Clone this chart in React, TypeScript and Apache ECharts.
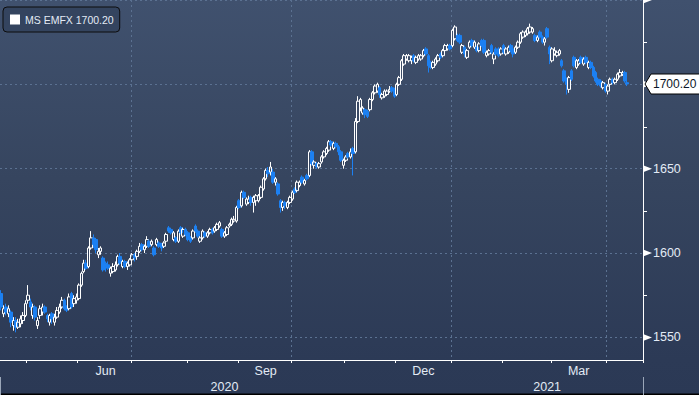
import React, { useEffect, useRef } from "react";
import * as echarts from "echarts";

// ---- data ----
const SERIES_NAME = "MS EMFX";
const START_DATE = "2020-04-16"; // first trading day shown
const CATEGORY_COUNT = 265; // trading-day slots on the axis (data + empty room at right)
const MONTH_NAMES = ["Jan", "Feb", "Mar", "Apr", "May", "Jun", "Jul", "Aug", "Sep", "Oct", "Nov", "Dec"];
const LABEL_MONTHS = [5, 8, 11, 2]; // Jun, Sep, Dec, Mar
const GRID_MONTHS = [0, 3, 6, 9]; // vertical gridlines at quarter starts
const Y_LABELS = [1550, 1600, 1650, 1700];
const Y_MAJOR = [1550, 1600, 1650, 1700, 1750];
const Y_MINOR = [1575, 1625, 1675, 1725];
const Y_MIN = 1536.6;
const Y_MAX = 1750;

// daily candles: [open, close, low, high]
const ohlc: number[][] = [
  [1576, 1568, 1566, 1578], [1564, 1567, 1562, 1569], [1568, 1565, 1563, 1570], [1564, 1567, 1562, 1569], [1565, 1559, 1556, 1566],
  [1557, 1560, 1554, 1562], [1560, 1556, 1553, 1562], [1556, 1559, 1555, 1561], [1558, 1561, 1556, 1563], [1560, 1563, 1558, 1565],
  [1563, 1570, 1562, 1572], [1572, 1575, 1570, 1581], [1571, 1568, 1566, 1573], [1563, 1568, 1561, 1570], [1568, 1562, 1560, 1569],
  [1557, 1560, 1555, 1562], [1563, 1567, 1561, 1569], [1565, 1568, 1563, 1570], [1568, 1565, 1564, 1569], [1563, 1561, 1559, 1564],
  [1559, 1563, 1557, 1564], [1564, 1561, 1558, 1565], [1559, 1562, 1557, 1564], [1562, 1566, 1561, 1568], [1565, 1568, 1564, 1570],
  [1568, 1572, 1567, 1574], [1572, 1567, 1566, 1573], [1568, 1566, 1565, 1569], [1567, 1574, 1566, 1576], [1576, 1568, 1567, 1577],
  [1570, 1573, 1568, 1575], [1572, 1574, 1570, 1576], [1573, 1581, 1572, 1582], [1581, 1588, 1580, 1589], [1589, 1594, 1588, 1596],
  [1594, 1591, 1590, 1596], [1592, 1603, 1591, 1604], [1603, 1609, 1602, 1613], [1609, 1605, 1603, 1611], [1608, 1602, 1600, 1609],
  [1599, 1601, 1597, 1603], [1601, 1603, 1599, 1604], [1597, 1590, 1589, 1598], [1594, 1592, 1589, 1595], [1593, 1591, 1590, 1595],
  [1588, 1591, 1586, 1592], [1589, 1592, 1588, 1594], [1590, 1593, 1589, 1595], [1593, 1598, 1592, 1599], [1598, 1594, 1593, 1600],
  [1592, 1595, 1591, 1596], [1595, 1592, 1591, 1596], [1592, 1594, 1590, 1595], [1593, 1596, 1592, 1597], [1596, 1599, 1594, 1600],
  [1599, 1597, 1595, 1600], [1598, 1601, 1596, 1602], [1601, 1604, 1600, 1606], [1605, 1602, 1601, 1606], [1602, 1604, 1600, 1605],
  [1604, 1608, 1603, 1610], [1607, 1604, 1603, 1608], [1605, 1607, 1604, 1608], [1603, 1599, 1598, 1604], [1605, 1608, 1604, 1609],
  [1606, 1604, 1603, 1607], [1605, 1603, 1601, 1606], [1604, 1606, 1603, 1607], [1607, 1611, 1606, 1612], [1615, 1613, 1612, 1616],
  [1614, 1612, 1611, 1615], [1608, 1612, 1607, 1613], [1609, 1607, 1606, 1610], [1607, 1613, 1606, 1614], [1615, 1612, 1611, 1616],
  [1610, 1614, 1609, 1615], [1614, 1611, 1610, 1615], [1612, 1608, 1607, 1613], [1609, 1607, 1606, 1610], [1609, 1613, 1608, 1614],
  [1616, 1613, 1612, 1617], [1613, 1610, 1609, 1614], [1607, 1609, 1606, 1610], [1609, 1613, 1608, 1614], [1612, 1610, 1609, 1613],
  [1610, 1612, 1609, 1613], [1612, 1614, 1611, 1615], [1614, 1612, 1611, 1615], [1613, 1615, 1612, 1616], [1614, 1617, 1613, 1618],
  [1616, 1618, 1615, 1619], [1614, 1610, 1609, 1615], [1610, 1612, 1609, 1613], [1611, 1615, 1610, 1616], [1616, 1617, 1615, 1618],
  [1617, 1620, 1616, 1621], [1619, 1620, 1618, 1622], [1619, 1627, 1618, 1628], [1631, 1627, 1626, 1632], [1628, 1636, 1627, 1637],
  [1636, 1633, 1632, 1637], [1629, 1632, 1628, 1633], [1630, 1632, 1629, 1634], [1633, 1630, 1628, 1634], [1630, 1633, 1624, 1634],
  [1631, 1634, 1628, 1635], [1631, 1634, 1630, 1635], [1633, 1639, 1632, 1640], [1638, 1644, 1637, 1645], [1644, 1649, 1643, 1650],
  [1649, 1647, 1645, 1651], [1648, 1651, 1646, 1654], [1648, 1642, 1641, 1650], [1642, 1644, 1640, 1645], [1641, 1635, 1634, 1642],
  [1631, 1627, 1624, 1632], [1627, 1630, 1625, 1631], [1630, 1628, 1626, 1631], [1627, 1630, 1626, 1631], [1630, 1633, 1629, 1634],
  [1632, 1636, 1631, 1637], [1638, 1636, 1635, 1639], [1637, 1642, 1636, 1643], [1640, 1642, 1639, 1643], [1645, 1642, 1641, 1646],
  [1641, 1643, 1640, 1644], [1646, 1644, 1643, 1647], [1646, 1660, 1645, 1661], [1660, 1653, 1652, 1661], [1652, 1654, 1650, 1655],
  [1653, 1651, 1650, 1654], [1651, 1653, 1650, 1654], [1654, 1657, 1653, 1658], [1657, 1660, 1656, 1661], [1659, 1662, 1658, 1663],
  [1661, 1666, 1660, 1667], [1666, 1664, 1663, 1667], [1662, 1665, 1661, 1666], [1665, 1663, 1662, 1666], [1663, 1660, 1658, 1664],
  [1660, 1655, 1654, 1661], [1652, 1655, 1650, 1656], [1655, 1657, 1654, 1658], [1659, 1657, 1656, 1660], [1657, 1660, 1656, 1662],
  [1662, 1659, 1646, 1663], [1660, 1678, 1659, 1680], [1678, 1690, 1677, 1693], [1686, 1691, 1684, 1692], [1683, 1686, 1682, 1687],
  [1685, 1682, 1680, 1686], [1684, 1681, 1680, 1685], [1685, 1691, 1684, 1692], [1691, 1695, 1690, 1696], [1695, 1699, 1694, 1700],
  [1696, 1700, 1695, 1701], [1698, 1694, 1692, 1699], [1692, 1694, 1691, 1695], [1693, 1696, 1692, 1697], [1694, 1696, 1693, 1697],
  [1696, 1697, 1695, 1699], [1698, 1696, 1695, 1699], [1697, 1693, 1692, 1698], [1694, 1700, 1693, 1701], [1700, 1704, 1699, 1705],
  [1703, 1714, 1702, 1715], [1712, 1717, 1711, 1718], [1715, 1717, 1714, 1718], [1714, 1717, 1713, 1718], [1714, 1716, 1712, 1717],
  [1717, 1714, 1713, 1718], [1713, 1716, 1712, 1717], [1715, 1717, 1714, 1718], [1715, 1717, 1714, 1718], [1717, 1720, 1716, 1721],
  [1721, 1718, 1717, 1722], [1717, 1711, 1707, 1718], [1713, 1710, 1709, 1714], [1710, 1713, 1709, 1714], [1712, 1715, 1711, 1716],
  [1714, 1717, 1713, 1718], [1718, 1716, 1715, 1719], [1717, 1720, 1716, 1721], [1720, 1723, 1719, 1724], [1721, 1723, 1720, 1724],
  [1723, 1721, 1720, 1724], [1723, 1732, 1722, 1733], [1727, 1734, 1726, 1735], [1729, 1726, 1725, 1730], [1729, 1725, 1724, 1730],
  [1719, 1723, 1718, 1724], [1722, 1718, 1716, 1723], [1716, 1720, 1715, 1721], [1722, 1725, 1721, 1726], [1726, 1723, 1722, 1727],
  [1722, 1725, 1721, 1726], [1722, 1720, 1719, 1723], [1720, 1724, 1719, 1725], [1726, 1723, 1722, 1727], [1726, 1719, 1718, 1727],
  [1717, 1719, 1716, 1720], [1718, 1720, 1717, 1721], [1723, 1719, 1718, 1724], [1715, 1718, 1712, 1719], [1721, 1718, 1717, 1722],
  [1721, 1717, 1716, 1722], [1718, 1721, 1717, 1722], [1723, 1719, 1718, 1724], [1718, 1721, 1717, 1722], [1719, 1722, 1718, 1723],
  [1723, 1720, 1719, 1724], [1721, 1718, 1716, 1722], [1719, 1722, 1718, 1723], [1722, 1725, 1721, 1726], [1725, 1730, 1724, 1731],
  [1728, 1731, 1727, 1732], [1729, 1731, 1728, 1732], [1730, 1733, 1729, 1734], [1731, 1734, 1730, 1736], [1731, 1733, 1730, 1734],
  [1729, 1726, 1725, 1730], [1726, 1728, 1725, 1729], [1731, 1728, 1727, 1732], [1728, 1725, 1724, 1729], [1725, 1727, 1723, 1728],
  [1733, 1728, 1727, 1734], [1722, 1718, 1712, 1723], [1714, 1721, 1713, 1722], [1718, 1720, 1717, 1722], [1717, 1719, 1716, 1720],
  [1718, 1720, 1717, 1721], [1714, 1711, 1710, 1715], [1708, 1702, 1701, 1709], [1703, 1700, 1694, 1704], [1697, 1704, 1695, 1705],
  [1708, 1703, 1702, 1709], [1716, 1711, 1710, 1717], [1710, 1714, 1709, 1715], [1712, 1714, 1711, 1715], [1716, 1713, 1712, 1717],
  [1712, 1715, 1711, 1716], [1716, 1713, 1712, 1717], [1710, 1713, 1709, 1714], [1713, 1710, 1709, 1714], [1710, 1705, 1704, 1711],
  [1707, 1702, 1701, 1708], [1703, 1700, 1699, 1704], [1702, 1699, 1698, 1703], [1698, 1701, 1697, 1702], [1700, 1696, 1695, 1701],
  [1696, 1699, 1694, 1700], [1700, 1703, 1699, 1704], [1703, 1701, 1700, 1704], [1701, 1703, 1700, 1704], [1703, 1706, 1702, 1707],
  [1705, 1707, 1704, 1709], [1706, 1707, 1705, 1708], [1707, 1702, 1701, 1708], [1701, 1700.2, 1699, 1702],
];

// ---- helpers (category building) ----
function buildTradingDays(start: string, count: number): string[] {
  const out: string[] = [];
  const d = new Date(start + "T00:00:00Z");
  while (out.length < count) {
    const wd = d.getUTCDay();
    if (wd !== 0 && wd !== 6) out.push(d.toISOString().slice(0, 10));
    d.setUTCDate(d.getUTCDate() + 1);
  }
  return out;
}

const FONT = '"Liberation Sans", Arial, sans-serif';
const TEXT_COLOR = "#e3ebf5";
const W = 699;
const H = 395;
const GRID = { left: 0, right: 56, top: 0, bottom: 35 };

export default function App() {
  const ref = useRef<HTMLDivElement>(null);

  useEffect(() => {
    if (!ref.current) return;
    const dates = buildTradingDays(START_DATE, CATEGORY_COUNT);
    const monthOf = (i: number) => parseInt(dates[i].slice(5, 7), 10) - 1;
    const yearOf = (i: number) => dates[i].slice(0, 4);
    const isMonthStart = (i: number) => i > 0 && monthOf(i) !== monthOf(i - 1);
    const isQuarterStart = (i: number) => isMonthStart(i) && GRID_MONTHS.includes(monthOf(i));

    // month label positions: middle of each labelled month
    const monthLabelIdx = new Set<number>();
    const monthRanges: Record<string, [number, number]> = {};
    dates.forEach((d, i) => {
      const key = d.slice(0, 7);
      if (!monthRanges[key]) monthRanges[key] = [i, i];
      else monthRanges[key][1] = i;
    });
    Object.keys(monthRanges).forEach((k) => {
      const [a, b] = monthRanges[k];
      const m = parseInt(k.slice(5, 7), 10) - 1;
      const complete = a > 0 && b < dates.length - 1;
      if (LABEL_MONTHS.includes(m) && complete) monthLabelIdx.add(Math.floor((a + b + 1) / 2));
    });

    // year label positions: middle of each year's visible span
    const yearRanges: Record<string, [number, number]> = {};
    dates.forEach((d, i) => {
      const y = yearOf(i);
      if (!yearRanges[y]) yearRanges[y] = [i, i];
      else yearRanges[y][1] = i;
    });
    const yearLabelIdx = new Set<number>();
    const yearStartIdx = new Set<number>();
    Object.keys(yearRanges).forEach((y) => {
      const [a, b] = yearRanges[y];
      yearLabelIdx.add(Math.floor((a + b) / 2));
      if (a > 0) yearStartIdx.add(a);
    });

    const last = ohlc[ohlc.length - 1][1];
    // the last-price tag covers any axis label that sits too close to it
    const visibleLabels = Y_LABELS.filter((v) => Math.abs(v - last) > 6);

    const chart = echarts.init(ref.current, null, { renderer: "svg" });
    const option: any = {
      animation: false,
      backgroundColor: {
        type: "linear",
        x: 0,
        y: 0,
        x2: 0,
        y2: 1,
        colorStops: [
          { offset: 0, color: "#40516e" },
          { offset: 0.45, color: "#36455f" },
          { offset: 0.91, color: "#2c3a56" },
          { offset: 1, color: "#2b3955" },
        ],
      },
      textStyle: { fontFamily: FONT },
      grid: { ...GRID, containLabel: false },
      legend: {
        show: true,
        left: 3,
        top: 7,
        icon: "rect",
        itemWidth: 10,
        itemHeight: 10,
        backgroundColor: "#34445f",
        borderColor: "#0c0c0c",
        borderWidth: 1,
        borderRadius: 4,
        padding: [7, 6, 7, 7],
        itemStyle: { color: "#ffffff", borderWidth: 0 },
        textStyle: { color: TEXT_COLOR, fontSize: 10.5, fontFamily: FONT },
        formatter: (name: string) => `${name} ${last.toFixed(2)}`,
        data: [SERIES_NAME],
      },
      xAxis: [
        {
          type: "category",
          data: dates,
          boundaryGap: true,
          axisLine: { show: true, lineStyle: { color: "#ffffff", width: 1 } },
          axisTick: {
            show: true,
            length: 3,
            interval: (i: number) => isMonthStart(i),
            lineStyle: { color: "#ffffff" },
          },
          axisLabel: {
            interval: (i: number) => monthLabelIdx.has(i),
            formatter: (v: string) => MONTH_NAMES[parseInt(v.slice(5, 7), 10) - 1],
            color: TEXT_COLOR,
            fontSize: 12.5,
            margin: 4,
            fontFamily: FONT,
          },
          splitLine: {
            show: true,
            interval: (i: number) => isQuarterStart(i),
            lineStyle: { color: "#5b7191", type: [2, 3], width: 1 },
          },
        },
        {
          type: "category",
          data: dates,
          boundaryGap: true,
          position: "bottom",
          offset: 17,
          axisLine: { show: false },
          axisTick: {
            show: true,
            length: 18,
            interval: (i: number) => yearStartIdx.has(i),
            lineStyle: { color: "#9aa6b8" },
          },
          axisLabel: {
            interval: (i: number) => yearLabelIdx.has(i),
            formatter: (v: string) => v.slice(0, 4),
            color: TEXT_COLOR,
            fontSize: 12.5,
            margin: 3,
            fontFamily: FONT,
          },
          splitLine: { show: false },
        },
      ],
      yAxis: {
        type: "value",
        position: "right",
        min: Y_MIN,
        max: Y_MAX,
        splitNumber: 5,
        axisLine: { show: true, lineStyle: { color: "#ffffff", width: 1 } },
        axisTick: { show: false },
        axisLabel: {
          show: true,
          margin: 10,
          color: TEXT_COLOR,
          fontSize: 12.5,
          fontFamily: FONT,
          showMinLabel: false,
          formatter: (v: number) => (visibleLabels.includes(Math.round(v * 100) / 100) ? String(v) : ""),
        },
        splitLine: {
          show: true,
          lineStyle: { color: "#5b7191", type: [2, 3], width: 1 },
        },
      },
      series: [
        {
          name: SERIES_NAME,
          type: "candlestick",
          xAxisIndex: 0,
          data: ohlc,
          barWidth: 3,
          itemStyle: {
            color: "rgba(0,0,0,0)",
            color0: "#1c80f2",
            borderColor: "#ffffff",
            borderColor0: "#1c80f2",
            borderWidth: 1,
          },
        },
      ],
    };
    chart.setOption(option);

    const axisX = chart.getWidth() - GRID.right;
    const g: any[] = [];
    Y_MAJOR.forEach((v) => {
      const y = chart.convertToPixel({ yAxisIndex: 0 }, v) as number;
      g.push({
        type: "polygon",
        silent: true,
        shape: { points: [[axisX, y - 3.5], [axisX + 9, y], [axisX, y + 3.5]] },
        style: { fill: "#ffffff" },
      });
    });
    Y_MINOR.forEach((v) => {
      const y = Math.round(chart.convertToPixel({ yAxisIndex: 0 }, v) as number) + 0.5;
      g.push({
        type: "line",
        silent: true,
        shape: { x1: axisX, y1: y, x2: axisX + 4, y2: y },
        style: { stroke: "#ffffff", lineWidth: 1 },
      });
    });
    const yl = chart.convertToPixel({ yAxisIndex: 0 }, last) as number;
    g.push({
      type: "polygon",
      silent: true,
      z: 100,
      shape: {
        points: [
          [axisX + 2, yl],
          [axisX + 8, yl - 10],
          [W + 2, yl - 10],
          [W + 2, yl + 10],
          [axisX + 8, yl + 10],
        ],
      },
      style: { fill: "#ffffff", stroke: "#000000", lineWidth: 1 },
    });
    g.push({
      type: "text",
      silent: true,
      z: 101,
      x: axisX + 10,
      y: yl,
      style: {
        text: last.toFixed(2),
        fill: "#0b1628",
        font: `12px ${FONT}`,
        verticalAlign: "middle",
        textVerticalAlign: "middle",
      },
    });
    g.push({
      type: "rect",
      silent: true,
      shape: { x: 0, y: H - 1.5, width: W, height: 1.5 },
      style: { fill: "#000000" },
    });
    chart.setOption({ graphic: g });

    return () => chart.dispose();
  }, []);

  return (
    <div
      ref={ref}
      style={{ position: "fixed", left: 0, top: 0, width: W, height: H }}
    />
  );
}
